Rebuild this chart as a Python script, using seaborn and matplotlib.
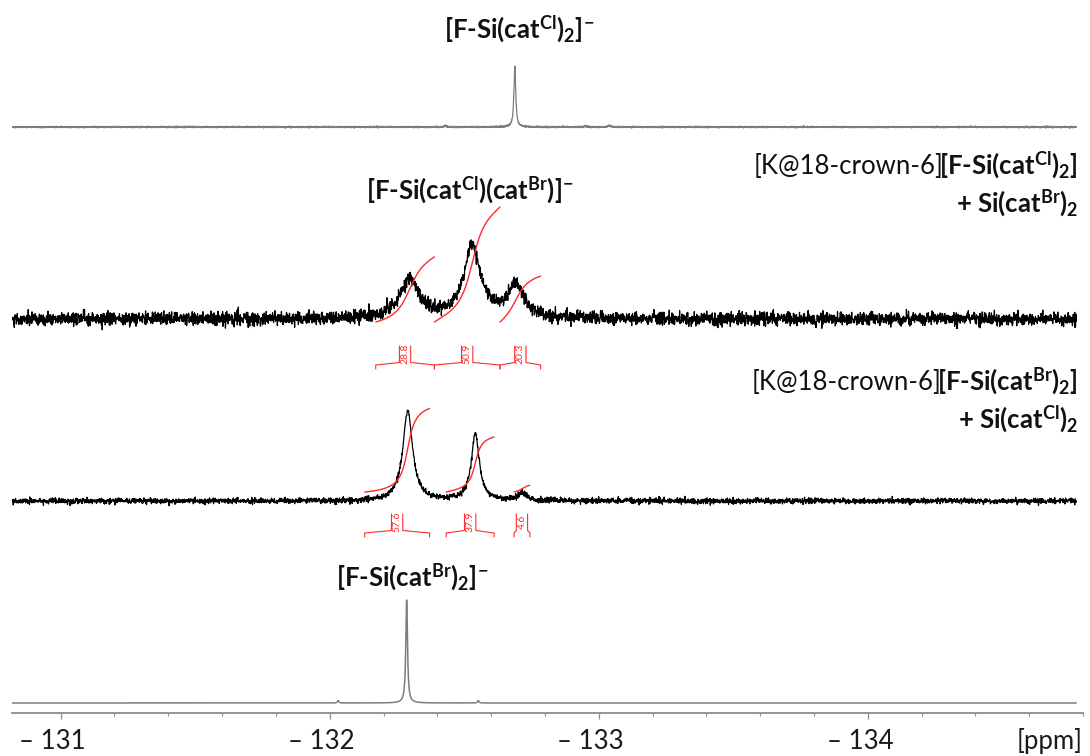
import numpy as np
import pandas as pd
import matplotlib
matplotlib.use("Agg")
import matplotlib.pyplot as plt
import matplotlib.transforms as mtransforms
import seaborn as sns

# ---- chemical-shift axis -------------------------------------------------
ppm_left, ppm_right = -130.819, -134.775
major_ticks = [-131, -132, -133, -134]
tick_labels = ["\u2013 131", "\u2013 132", "\u2013 133", "\u2013 134"]

# ---- 19F spectra: shift (ppm), height, line width (FWHM, ppm) -----------
# [F-Si(catCl)2]- reference
ref_cl_shift = [-132.688, -132.43, -132.95, -133.04]
ref_cl_height = [61.0, 1.2, 1.0, 1.5]
ref_cl_fwhm = [0.008, 0.010, 0.010, 0.010]

# [K@18-crown-6][F-Si(catCl)2] + Si(catBr)2
mixA_shift = [-132.297, -132.530, -132.692]
mixA_height = [38.0, 72.0, 32.0]
mixA_fwhm = [0.085, 0.075, 0.075]
mixA_regions = [(-132.171, -132.389), (-132.389, -132.633), (-132.633, -132.784)]
mixA_integrals = [28.8, 50.9, 20.3]

# [K@18-crown-6][F-Si(catBr)2] + Si(catCl)2
mixB_shift = [-132.290, -132.541, -132.716]
mixB_height = [90.0, 67.0, 8.0]
mixB_fwhm = [0.044, 0.036, 0.035]
mixB_regions = [(-132.130, -132.371), (-132.433, -132.611), (-132.685, -132.744)]
mixB_integrals = [57.6, 37.9, 4.6]

# [F-Si(catBr)2]- reference
ref_br_shift = [-132.286, -132.031, -132.552]
ref_br_height = [103.0, 2.5, 2.5]
ref_br_fwhm = [0.0075, 0.006, 0.006]

# ---- figure --------------------------------------------------------------
W, H = 1090, 756
sns.set_theme(style="white")
plt.rcParams["font.family"] = ["Lato", "DejaVu Sans"]
plt.rcParams["mathtext.fontset"] = "custom"
plt.rcParams["mathtext.rm"] = "Lato"
plt.rcParams["mathtext.bf"] = "Lato:bold"
plt.rcParams["mathtext.it"] = "Lato:italic"

fig = plt.figure(figsize=(W / 100, H / 100), dpi=100)
ax = fig.add_axes([12 / W, (H - 713) / H, (1083 - 12) / W, 713 / H])
ax.set_xlim(ppm_left, ppm_right)
ax.set_ylim(0, 713)

grid = np.linspace(ppm_left, ppm_right, 9000)
rng = np.random.default_rng(7)


def lorentz(x, shifts, heights, fwhm):
    y = np.zeros_like(x)
    for s, h, w in zip(shifts, heights, fwhm):
        y += h / (1.0 + ((x - s) / (w / 2.0)) ** 2)
    return y


def draw_spectrum(shifts, heights, fwhm, base, noise, color, lw, npts):
    x = np.linspace(ppm_left, ppm_right, npts)
    y = base + lorentz(x, shifts, heights, fwhm)
    if noise > 0:
        y = y + rng.normal(0.0, noise, x.size)
    df = pd.DataFrame({"ppm": x, "I": y})
    sns.lineplot(data=df, x="ppm", y="I", ax=ax, color=color, lw=lw,
                 estimator=None, sort=False)


RED = "#ff2b2b"


def draw_integrals(shifts, heights, fwhm, regions, values, start, scale,
                   ybar, label_half=0.021):
    for (a, b), val in zip(regions, values):
        x = grid[(grid <= a) & (grid >= b)]
        s = lorentz(x, shifts, heights, fwhm)
        cum = np.concatenate([[0.0], np.cumsum((s[1:] + s[:-1]) / 2.0)])
        cum = cum / cum[-1] * val * scale + start
        df = pd.DataFrame({"ppm": x, "I": cum})
        sns.lineplot(data=df, x="ppm", y="I", ax=ax, color=RED, lw=1.0,
                     estimator=None, sort=False)
        # bracket with the integral value
        c = (a + b) / 2.0
        xa, xb = c + label_half, c - label_half
        ax.plot([a, a, xa, xa], [ybar - 4, ybar, ybar + 2.5, ybar + 19],
                color=RED, lw=0.8)
        ax.plot([xb, xb, b, b], [ybar + 19, ybar + 2.5, ybar, ybar - 4],
                color=RED, lw=0.8)
        ax.text(c, ybar + 11, f"{val:.1f}", rotation=90, ha="center",
                va="center", color=RED, fontsize=7.5)


# stacked traces (top to bottom)
draw_spectrum(ref_cl_shift, ref_cl_height, ref_cl_fwhm, 586, 0.35,
              "#7d7d7d", 0.9, 9000)
draw_spectrum(mixA_shift, mixA_height, mixA_fwhm, 394, 3.2, "black", 0.9, 4200)
draw_integrals(mixA_shift, mixA_height, mixA_fwhm, mixA_regions,
               mixA_integrals, start=391, scale=2.26, ybar=348)
draw_spectrum(mixB_shift, mixB_height, mixB_fwhm, 212, 1.4, "black", 0.9, 4200)
draw_integrals(mixB_shift, mixB_height, mixB_fwhm, mixB_regions,
               mixB_integrals, start=221, scale=1.45, ybar=180)
draw_spectrum(ref_br_shift, ref_br_height, ref_br_fwhm, 10, 0.0,
              "#7d7d7d", 1.1, 9000)

# ---- axis styling --------------------------------------------------------
for side in ("left", "right", "top"):
    ax.spines[side].set_visible(False)
ax.spines["bottom"].set_color("#8c8c8c")
ax.spines["bottom"].set_linewidth(1.3)
ax.set_yticks([])
ax.set_xticks(major_ticks)
ax.set_xticks(np.arange(-131.0, -134.8, -0.2), minor=True)
ax.set_xticklabels(tick_labels)
ax.tick_params(axis="x", which="major", direction="out", length=4.5, width=0.9,
               color="#8c8c8c", labelsize=18.5, labelcolor="#1a1a1a", pad=7,
               bottom=True)
ax.tick_params(axis="x", which="minor", direction="out", length=2.2, width=0.8,
               color="#8c8c8c", bottom=True)
shift = mtransforms.ScaledTranslation(-8 / 100, 0, fig.dpi_scale_trans)
for lab in ax.get_xticklabels():
    lab.set_transform(lab.get_transform() + shift)
ax.set_xlabel("")
ax.set_ylabel("")
fig.text(1083 / W, 1 - 741 / H, "[ppm]", ha="right", va="center",
         fontsize=18.5, color="#1a1a1a")

# ---- annotations ---------------------------------------------------------
FS = 18.5


def px(x, y):
    return x / W, 1 - y / H


def bold_label(text, x, y):
    fig.text(*px(x, y), text, ha="center", va="baseline", fontsize=FS,
             fontweight="bold", color="#111111")


def mixed_label(normal, bold, x, y):
    tb = fig.text(*px(x, y), bold, ha="right", va="baseline", fontsize=FS,
                  fontweight="bold", color="#111111")
    if normal:
        ax.annotate(normal, xy=(0, px(x, y)[1]),
                    xycoords=(tb, fig.transFigure), xytext=(3, 0),
                    textcoords="offset points", ha="right",
                    va="baseline", fontsize=FS, color="#111111",
                    annotation_clip=False)


bold_label(r"[F-Si(cat$^{\mathbf{Cl}}$)$_{\mathbf{2}}$]$^{\mathbf{-}}$", 519, 38)
bold_label(r"[F-Si(cat$^{\mathbf{Cl}}$)(cat$^{\mathbf{Br}}$)]$^{\mathbf{-}}$",
           470, 199)
mixed_label("[K@18-crown-6]", r"[F-Si(cat$^{\mathbf{Cl}}$)$_{\mathbf{2}}$]",
            1078, 174)
mixed_label("", r"+ Si(cat$^{\mathbf{Br}}$)$_{\mathbf{2}}$", 1078, 212)
mixed_label("[K@18-crown-6]", r"[F-Si(cat$^{\mathbf{Br}}$)$_{\mathbf{2}}$]",
            1078, 390)
mixed_label("", r"+ Si(cat$^{\mathbf{Cl}}$)$_{\mathbf{2}}$", 1078, 428)
bold_label(r"[F-Si(cat$^{\mathbf{Br}}$)$_{\mathbf{2}}$]$^{\mathbf{-}}$", 412, 586)

fig.savefig("out.png", dpi=100, facecolor="white")
